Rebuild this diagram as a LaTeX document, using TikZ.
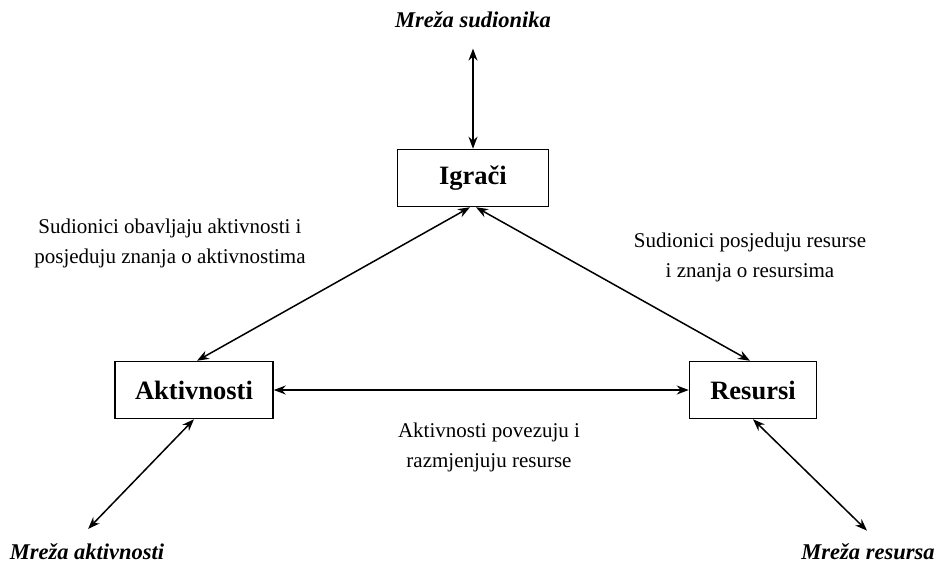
\documentclass[tikz,border=0pt]{standalone}
\usepackage{fontspec}
\setmainfont{Liberation Serif}
\usetikzlibrary{arrows.meta,positioning}

\begin{document}
\begin{tikzpicture}[x=1pt,y=-1pt,
box/.style={draw,line width=1.5pt,minimum height=57pt,inner sep=0pt,
  font=\fontsize{26.5}{30}\selectfont\bfseries},
net/.style={font=\fontsize{22.5}{25}\selectfont\bfseries\itshape},
lbl/.style={align=center,font=\fontsize{21}{30}\selectfont},
link/.style={{Stealth[length=12pt,width=9pt]}-{Stealth[length=12pt,width=9pt]},line width=1.5pt}]
\useasboundingbox (0,0) rectangle (942,565);
% boxes
\node[box,minimum width=151pt] (igraci) at (473,178) {Igrači};
\node[box,minimum width=158pt] (aktivnosti) at (194,390) {Aktivnosti};
\node[box,minimum width=127pt] (resursi) at (753,390) {Resursi};
% networks
\node[net] (msud) at (473,20) {Mreža sudionika};
\node[net] (makt) at (87,552) {Mreža aktivnosti};
\node[net] (mres) at (868,552) {Mreža resursa};
% labels
\node[lbl] (lakt) at (170,243) {Sudionici obavljaju aktivnosti i\\posjeduju znanja o aktivnostima};
\node[lbl] (lres) at (750,257) {Sudionici posjeduju resurse\\i znanja o resursima};
\node[lbl] (lveza) at (489,447) {Aktivnosti povezuju i\\razmjenjuju resurse};
% links
\draw[link,shorten <=17pt] (msud) -- (igraci);
\draw[link] ([xshift=-3pt]igraci.south) -- ([xshift=3pt]aktivnosti.north);
\draw[link] ([xshift=3pt]igraci.south) -- ([xshift=-3pt]resursi.north);
\draw[link] (aktivnosti) -- (resursi);
\draw[link,shorten >=16pt] (aktivnosti.south) -- ([xshift=-10pt]makt.north);
\draw[link,shorten >=14pt] (resursi.south) -- ([xshift=9pt]mres.north);
\end{tikzpicture}
\end{document}
